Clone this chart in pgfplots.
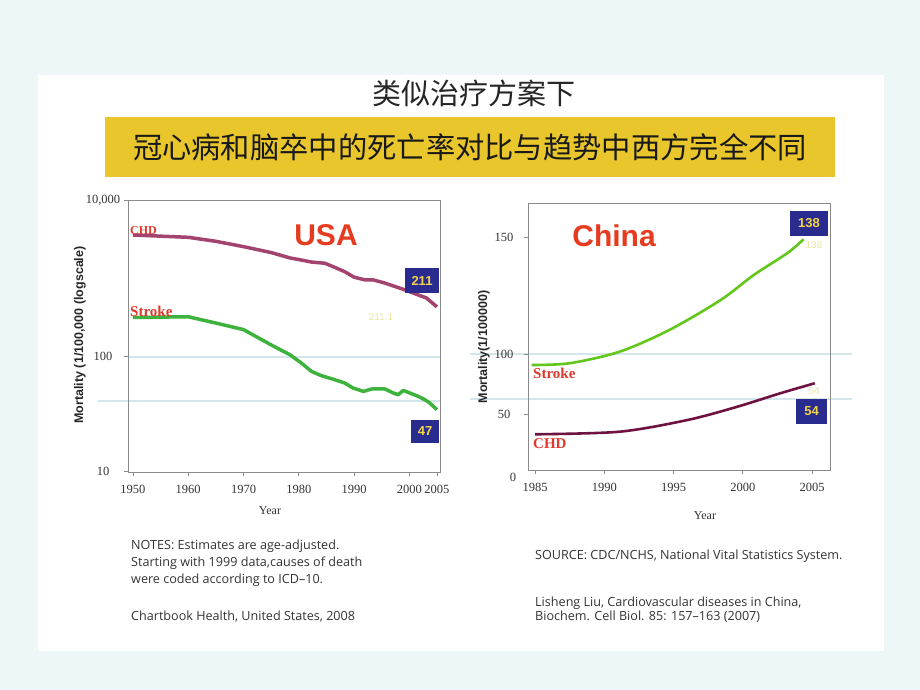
\documentclass[border=0pt]{standalone}
\usepackage{fontspec}
\usepackage{pgfplots}
\pgfplotsset{compat=1.18}
\setmainfont{Liberation Serif}
\newfontfamily\arial{Liberation Sans}
\newfontfamily\notefont{Open Sans}
\newfontfamily\cjk{Noto Sans CJK SC}
\definecolor{bgout}{HTML}{EEF7F7}
\definecolor{gold}{HTML}{E8C62C}
\definecolor{usared}{HTML}{E63B1E}
\definecolor{lblred}{HTML}{E0392B}
\definecolor{chdusa}{HTML}{A3436F}
\definecolor{strusa}{HTML}{3DB23D}
\definecolor{strchn}{HTML}{62C71A}
\definecolor{chdchn}{HTML}{6E1341}
\definecolor{navy}{HTML}{2A2B8E}
\definecolor{numyel}{HTML}{F2D54A}
\definecolor{paleyel}{HTML}{EEE6A0}
\definecolor{gridc}{HTML}{D3E6EC}
\definecolor{framec}{HTML}{8A8A8A}
\definecolor{notec}{HTML}{333333}

\pgfplotsset{
  slide axis/.style={
    anchor=south west, scale only axis,
    axis line style={framec, line width=0.8pt},
    tick style={framec, line width=0.6pt},
    tick align=outside, major tick length=4pt,
    xtick pos=bottom, ytick pos=left,
    ticklabel style={font=\fontsize{12.5}{14}\selectfont, text=black!80},
    /pgf/number format/assume math mode=true,
    xticklabel style={yshift=-6pt},
    yticklabel style={anchor=center},
  }
}

\begin{document}
\begin{tikzpicture}[x=1pt,y=1pt]
\fill[bgout] (0,0) rectangle (920,690);
\fill[white] (38,39) rectangle (884,615);
\node[font=\cjk\fontsize{29}{33}\selectfont, text=black!85] at (474,597) {类似治疗方案下};
\fill[gold] (105,513) rectangle (835,573);
\node[font=\cjk\fontsize{29.3}{33}\selectfont, text=black!90] at (470,543) {冠心病和脑卒中的死亡率对比与趋势中西方完全不同};

% decorative horizontal lines
\draw[gridc, line width=1.2pt] (128,333) -- (440,333);
\draw[gridc, line width=1.2pt] (98,289) -- (440,289);
\draw[gridc, line width=1.2pt] (470,336) -- (852,336);
\draw[gridc, line width=1.2pt] (470,291) -- (852,291);

% ---------------- USA ----------------
\begin{axis}[slide axis,
  at={(128pt,218pt)}, width=312pt, height=272pt,
  xmin=1949.1, xmax=2005.55,
  ymode=log, ymin=18.4, ymax=1000, yminorticks=false,
  xtick={1950,1960,1970,1980,1990,2000,2005},
  xticklabels={1950,1960,1970,1980,1990,2000,2005},
  ytick={18.52,100,1000},
  yticklabels={10,100,{10,000}},
  yticklabel style={xshift=-21pt},
]
\addplot[chdusa, line width=3.5pt, line join=round] coordinates {
(1950,598) (1955,588) (1960,578) (1965,545) (1970,504) (1975,462) (1978.4,427)
(1980,417) (1982.3,402) (1984.7,395) (1986.5,372) (1988.3,349) (1990,322)
(1992,309) (1993.5,309) (1995.6,295) (1999.2,267) (2001.6,248) (2003.1,237) (2005,208)};
\addplot[strusa, line width=3.5pt, line join=round] coordinates {
(1950,178) (1960,180) (1965,164) (1970,149) (1975,119) (1978.4,103) (1980.5,91)
(1982.3,80.6) (1984.1,75.7) (1986.5,71.4) (1988.3,68) (1989.8,63.2) (1991.7,60.1)
(1993.2,62.3) (1995.6,62.3) (1997.1,58.7) (1998,57.3) (1998.9,61) (2000.1,58.7)
(2001.6,55.9) (2002.8,53.2) (2003.6,51) (2005,46)};
\end{axis}

% ---------------- China ----------------
\begin{axis}[slide axis,
  at={(528pt,220pt)}, width=302pt, height=267pt,
  xmin=1984.49, xmax=2006.3,
  ymin=4.375, ymax=171.25,
  xtick={1985,1990,1995,2000,2005},
  xticklabels={1985,1990,1995,2000,2005},
  ytick={39.4,76.9,150},
  yticklabels={50,100,150},
  yticklabel style={xshift=-20pt},
]
\addplot[strchn, line width=2.6pt, smooth] coordinates {
(1984.76,70) (1987.5,71.1) (1991.1,78.3) (1994.7,91.9) (1998.4,110.6)
(2000.8,126.3) (2003.2,139.8) (2004.4,148.6)};
\addplot[chdchn, line width=2.6pt, smooth] coordinates {
(1985,26.7) (1991.1,28.3) (1996,35.6) (1999.6,43.9) (2002.7,52.3) (2005.2,58.6)};
\end{axis}

\node[font=\fontsize{12.5}{14}\selectfont, text=black!80] at (513,213) {0};

% titles in charts
\node[font=\arial\bfseries\fontsize{30}{32}\selectfont, text=usared] at (326,455) {USA};
\node[font=\arial\bfseries\fontsize{30}{32}\selectfont, text=usared] at (614,454) {China};

% series labels
\node[anchor=west, inner sep=0, font=\bfseries\fontsize{12}{14}\selectfont, text=lblred] at (130,459) {CHD};
\node[anchor=west, inner sep=0, font=\bfseries\fontsize{15}{17}\selectfont, text=lblred] at (130,379) {Stroke};
\node[anchor=west, inner sep=0, font=\bfseries\fontsize{15}{17}\selectfont, text=lblred] at (533,317) {Stroke};
\node[anchor=west, inner sep=0, font=\bfseries\fontsize{15}{17}\selectfont, text=lblred] at (533,246) {CHD};

% value boxes
\node[fill=navy, text=numyel, font=\arial\bfseries\fontsize{13}{15}\selectfont, minimum width=34pt, minimum height=25pt, inner sep=0] at (422,409.5) {211};
\node[fill=navy, text=numyel, font=\arial\bfseries\fontsize{13}{15}\selectfont, minimum width=28pt, minimum height=23pt, inner sep=0] at (425,258.5) {47};
\node[fill=navy, text=numyel, font=\arial\bfseries\fontsize{13}{15}\selectfont, minimum width=38pt, minimum height=25pt, inner sep=0] at (809,466.5) {138};
\node[fill=navy, text=numyel, font=\arial\bfseries\fontsize{13}{15}\selectfont, minimum width=31pt, minimum height=25pt, inner sep=0] at (811.5,278.5) {54};
\node[text=paleyel, font=\arial\fontsize{10}{12}\selectfont] at (381,373) {211.1};
\node[text=paleyel, font=\arial\fontsize{10}{12}\selectfont] at (814,445) {138};
\node[text=paleyel, font=\arial\fontsize{10}{12}\selectfont] at (814,299) {54};

% axis labels
\node[rotate=90, font=\arial\bfseries\fontsize{12.5}{14}\selectfont, text=black!85] at (80,355) {Mortality (1/100,000 (logscale)};
\node[rotate=90, font=\arial\bfseries\fontsize{12.5}{14}\selectfont, text=black!85] at (484,343) {Mortality(1/100000)};
\node[font=\fontsize{12}{14}\selectfont, text=black!80] at (270,179) {Year};
\node[font=\fontsize{12}{14}\selectfont, text=black!80] at (705,174) {Year};

% notes
\begin{scope}[every node/.style={anchor=west, inner sep=0, font=\notefont\fontsize{12.6}{14}\selectfont, text=notec}]
\node at (131,144) {NOTES: Estimates are age-adjusted.};
\node at (131,127) {Starting with 1999 data,causes of death};
\node at (131,110) {were coded according to ICD–10.};
\node at (131,73) {Chartbook Health, United States, 2008};
\node at (535,134) {SOURCE: CDC/NCHS, National Vital Statistics System.};
\node at (535,87) {Lisheng Liu, Cardiovascular diseases in China,};
\node at (535,73) {Biochem. Cell Biol. 85: 157–163 (2007)};
\end{scope}

\pgfresetboundingbox
\path[use as bounding box] (0,0) rectangle (920,690);
\end{tikzpicture}
\end{document}
